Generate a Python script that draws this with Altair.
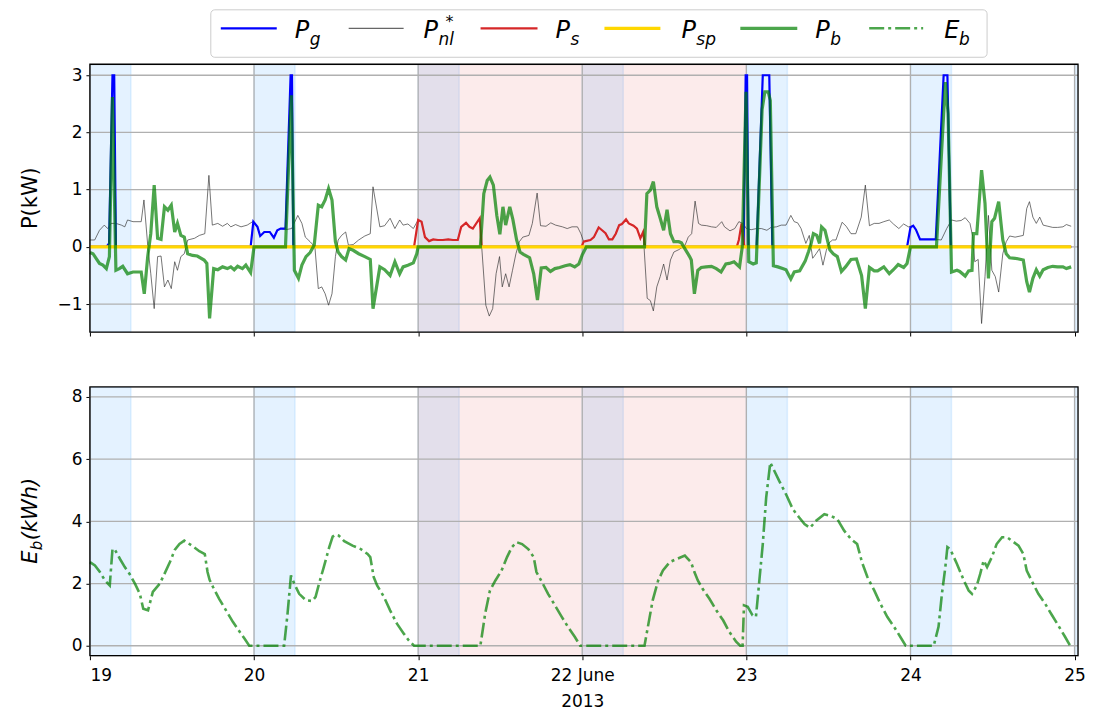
import altair as alt
import pandas as pd

# ---------------- data (hours since 2013-06-19 00:00, value) ----------------
pnl = [(0,0.12),(0.7,0.12),(1.4,0.29),(2.1,0.38),(2.6,0.32),(3.1,0.41),(3.8,0.41),(4.6,0.38),(5.1,0.35),(5.5,0.47),
       (6.3,0.44),(7.5,0.44),(7.9,0.82),(8.45,0.03),(8.9,-0.47),(9.4,-1.08),(9.9,-0.17),(10.4,-0.16),(10.9,-0.70),
       (11.4,-0.58),(11.9,-0.73),(12.4,-0.26),(12.8,-0.41),(13.3,-0.17),(13.8,-0.12),(14.3,0.12),(15.3,0.15),(16.0,0.20),
       (16.8,0.23),(17.4,1.25),(17.9,0.38),(18.7,0.41),(19.4,0.36),(20.1,0.41),(20.6,0.35),(21.3,0.39),(22.1,0.35),
       (23.0,0.38),(23.8,0.44),(24.5,0.35),(24.9,0.19),(25.5,0.26),(26.3,0.26),(26.9,0.16),(27.4,0.29),(27.9,0.32),
       (28.6,0.30),(29.5,0.32),(30.4,0.55),(31.0,0.41),(31.5,0.17),(32.2,0.09),(32.9,0.0),(33.4,-0.73),(33.9,-0.70),
       (34.4,-0.82),(34.9,-1.02),(35.4,-0.82),(35.9,-0.17),(36.3,0.12),(36.8,0.20),(37.4,0.26),(37.8,0.03),(38.5,0.04),
       (39.3,0.12),(40.2,0.19),(41.0,0.23),(41.4,1.05),(42.4,0.35),(43.1,0.37),(43.9,0.50),(44.6,0.32),(45.3,0.47),
       (45.8,0.38),(46.5,0.40),(47.3,0.32),(48.0,0.47),(48.5,0.44),(49.0,0.17),(49.6,0.10),(50.2,0.13),(50.9,0.12),
       (51.6,0.12),(52.4,0.13),(53.1,0.12),(53.8,0.12),(54.3,0.35),(55.0,0.42),(55.5,0.35),(56.0,0.32),(57.0,0.50),
       (57.9,-1.02),(58.4,-1.21),(58.9,-1.08),(59.4,-0.47),(59.9,-0.17),(60.3,-0.70),(60.8,-0.47),(61.3,-0.70),
       (61.8,-0.41),(62.3,-0.12),(62.8,0.09),(63.3,0.17),(64.2,0.20),(64.7,0.41),(65.4,0.94),(65.9,0.37),(66.7,0.36),
       (67.4,0.42),(68.1,0.38),(69.1,0.35),(69.8,0.32),(70.5,0.35),(71.3,0.35),(71.8,0.23),(72.2,0.09),(72.5,0.10),
       (73.2,0.12),(73.7,0.17),(74.4,0.34),(74.9,0.29),(75.4,0.24),(75.9,0.13),(76.4,0.13),(76.9,0.23),(77.4,0.38),
       (77.8,0.40),(78.4,0.48),(78.8,0.41),(79.5,0.37),(80.0,0.32),(80.5,0.15),(80.9,0.26),(81.5,-0.90),(81.96,-0.94),
       (82.4,-1.12),(82.9,-0.70),(83.4,-0.52),(83.9,-0.30),(84.4,-0.58),(84.9,-0.23),(85.4,-0.09),(86.1,-0.05),
       (87.0,0.02),(87.5,0.17),(88.0,0.23),(88.5,0.80),(89.0,0.41),(89.4,0.38),(90.2,0.37),(90.9,0.35),(91.6,0.34),
       (92.4,0.44),(92.8,0.35),(93.6,0.28),(94.3,0.32),(94.9,0.44),(95.5,0.41),(96.0,0.32),(96.7,0.30),(97.5,0.32),
       (98.2,0.32),(99.0,0.29),(99.6,0.34),(100.4,0.35),(101.1,0.38),(101.8,0.38),(102.5,0.55),(103.0,0.44),
       (103.5,0.42),(104.0,0.32),(104.7,0.06),(105.2,0.20),(105.7,-0.20),(106.2,-0.12),(106.7,-0.03),(107.2,-0.32),
       (107.7,-0.06),(108.1,0.07),(108.6,0.12),(109.1,0.12),(110.0,0.43),(110.6,0.36),(111.3,0.23),(112.0,0.23),
       (112.8,0.52),(113.4,1.08),(114.0,0.37),(114.7,0.41),(115.4,0.41),(116.1,0.44),(116.9,0.47),(117.5,0.40),
       (118.3,0.32),(119.0,0.40),(119.7,0.35),(120.4,0.37),(120.8,0.30),(121.4,0.13),(123.7,0.13),(124.5,0.12),
       (125.3,0.32),(126.0,0.47),(126.7,0.45),(127.4,0.46),(128.0,0.51),(128.7,0.41),(129.1,0.18),(129.4,-0.26),
       (129.9,-0.22),(130.4,-1.34),(130.9,-0.52),(131.4,0.55),(131.9,-0.41),(132.4,-0.52),(132.9,-0.79),(133.5,-0.12),
       (134.0,0.09),(134.5,0.19),(135.3,0.17),(136.5,0.20),(137.0,0.67),(137.4,0.79),(137.9,0.52),(138.4,0.41),
       (138.9,0.52),(139.4,0.38),(140.1,0.36),(140.8,0.34),(141.5,0.34),(142.3,0.35),(142.8,0.39),(143.5,0.36)]

pg = [(0,0),(2.4,0),(2.8,0.06),(3.3,3.0),(3.55,3.0),(3.8,0),(23.5,0),(23.9,0.44),(24.5,0.35),(24.9,0.19),
      (25.5,0.26),(26.3,0.26),(26.9,0.16),(27.4,0.29),(27.9,0.32),(28.6,0.32),(29.35,3.0),(29.55,3.0),(29.75,0),
      (95.6,0),(95.9,3.0),(96.1,3.0),(96.3,0),(97.5,0),(98.4,3.0),(99.35,3.0),(99.8,0),(119.5,0),(120.0,0.34),
      (120.4,0.37),(120.8,0.30),(121.4,0.13),(123.7,0.13),(124.85,3.0),(125.4,3.0),(125.9,0),(143.5,0)]

ps = [(0,0),(47.4,0),(48.0,0.47),(48.5,0.44),(49.0,0.17),(49.6,0.10),(50.2,0.13),(50.9,0.12),(51.6,0.12),
      (52.4,0.13),(53.1,0.12),(53.8,0.12),(54.3,0.35),(55.0,0.42),(55.5,0.35),(56.0,0.32),(57.0,0.50),(57.3,0),
      (71.9,0),(72.2,0.09),(72.5,0.10),(73.2,0.12),(73.7,0.17),(74.4,0.34),(74.9,0.29),(75.4,0.24),(75.9,0.13),
      (76.4,0.13),(76.9,0.23),(77.4,0.38),(77.8,0.40),(78.4,0.48),(78.8,0.41),(79.5,0.37),(80.0,0.32),(80.5,0.15),
      (80.9,0.26),(81.2,0),(94.6,0),(94.9,0.12),(95.3,0.41),(95.7,0),(143.5,0)]

psp = [(0,0.0),(143.5,0.0)]

pb = [(0,-0.10),(0.45,-0.12),(0.9,-0.20),(1.4,-0.29),(1.9,-0.32),(2.4,-0.38),(2.85,-0.17),(3.3,2.62),(3.8,-0.41),
      (4.3,-0.38),(4.8,-0.34),(5.5,-0.47),(6.3,-0.44),(7.5,-0.44),(7.95,-0.82),(8.45,-0.17),(8.9,0.23),(9.4,1.08),
      (9.9,0.15),(10.4,0.13),(10.9,0.70),(11.4,0.64),(11.9,0.73),(12.4,0.26),(12.8,0.41),(13.3,0.20),(13.8,0.17),
      (14.3,-0.12),(15.0,-0.15),(15.7,-0.16),(16.7,-0.23),(17.1,-0.29),(17.5,-1.25),(18.1,-0.38),(18.7,-0.40),
      (19.4,-0.35),(20.1,-0.38),(20.6,-0.35),(21.1,-0.40),(21.6,-0.34),(22.3,-0.38),(22.8,-0.32),(23.5,-0.45),
      (24.0,0.0),(28.6,0.0),(29.45,2.65),(29.9,-0.41),(30.5,-0.55),(31.0,-0.32),(31.6,-0.17),(32.2,-0.10),
      (32.8,0.03),(33.4,0.73),(33.9,0.70),(34.4,0.82),(34.9,1.02),(35.4,0.82),(35.9,0.09),(36.3,-0.09),
      (36.8,-0.17),(37.4,-0.23),(37.9,-0.03),(38.5,-0.06),(39.3,-0.12),(40.2,-0.17),(41.0,-0.22),(41.4,-1.08),
      (42.4,-0.35),(43.1,-0.40),(43.9,-0.50),(44.6,-0.26),(45.3,-0.47),(45.8,-0.35),(46.5,-0.32),(47.3,-0.28),
      (47.8,-0.12),(48.0,0.0),(57.1,0.0),(57.6,0.93),(58.1,1.16),(58.5,1.22),(59.0,1.08),(59.5,0.55),(59.95,0.22),
      (60.4,0.70),(60.8,0.38),(61.4,0.70),(61.85,0.48),(62.4,0.12),(62.9,-0.09),(63.4,-0.13),(64.3,-0.19),
      (64.9,-0.47),(65.45,-0.93),(66.0,-0.37),(66.7,-0.36),(67.35,-0.43),(68.0,-0.38),(68.7,-0.36),(69.5,-0.33),
      (70.2,-0.31),(70.9,-0.35),(71.5,-0.30),(72.0,-0.14),(72.6,0.0),(81.1,0.0),(81.45,0.93),(81.96,0.99),
      (82.4,1.14),(82.9,0.70),(83.4,0.50),(83.9,0.29),(84.4,0.65),(84.9,0.23),(85.4,0.09),(86.1,0.09),(86.5,0.07),
      (87.0,-0.03),(87.7,-0.17),(87.95,-0.23),(88.4,-0.82),(88.9,-0.41),(89.4,-0.36),(90.1,-0.35),(90.9,-0.34),
      (91.6,-0.38),(92.3,-0.44),(93.0,-0.30),(93.5,-0.29),(94.2,-0.26),(95.0,-0.35),(95.4,0.0),(95.95,2.71),
      (96.35,-0.26),(97.0,-0.30),(97.45,-0.28),(98.3,2.4),(98.7,2.71),(99.2,2.71),(99.5,2.56),(99.95,-0.33),
      (100.6,-0.35),(101.3,-0.38),(101.8,-0.40),(102.5,-0.56),(103.0,-0.44),(103.8,-0.42),(104.6,-0.25),
      (105.1,-0.08),(105.45,0.05),(105.8,0.23),(106.3,0.20),(106.7,0.06),(107.0,0.35),(107.5,0.29),(108.2,-0.05),
      (108.7,-0.12),(109.3,-0.17),(109.9,-0.43),(110.5,-0.35),(111.3,-0.22),(112.1,-0.21),(112.85,-0.50),
      (113.4,-1.08),(114.0,-0.36),(114.7,-0.42),(115.2,-0.42),(116.1,-0.35),(116.9,-0.47),(117.5,-0.40),
      (118.2,-0.31),(119.0,-0.36),(119.5,-0.29),(120.0,0.0),(123.8,0.0),(125.1,2.88),(125.5,2.33),(126.0,-0.44),
      (126.8,-0.41),(127.2,-0.43),(128.0,-0.51),(128.5,-0.42),(129.0,-0.41),(129.2,0.23),(129.7,0.23),(130.4,1.34),
      (130.9,0.76),(131.4,-0.55),(131.9,0.44),(132.3,0.50),(132.9,0.79),(133.5,0.12),(134.0,-0.12),(134.5,-0.19),
      (135.3,-0.20),(136.5,-0.23),(137.0,-0.61),(137.4,-0.79),(137.9,-0.55),(138.4,-0.40),(138.9,-0.51),
      (139.4,-0.40),(140.1,-0.36),(140.8,-0.34),(141.5,-0.35),(142.3,-0.35),(142.8,-0.38),(143.5,-0.35)]

eb = [(0,2.69),(0.73,2.58),(1.46,2.37),(2.2,2.10),(2.9,1.94),(3.3,3.11),(3.6,3.11),(4.4,2.79),(5.1,2.53),(5.8,2.31),
      (6.6,1.99),(7.3,1.67),(7.8,1.19),(8.5,1.14),(9.2,1.73),(10.2,1.99),(10.9,2.31),(11.7,2.69),(12.4,3.08),
      (13.1,3.27),(13.8,3.38),(15.1,3.19),(16.0,3.04),(16.8,2.95),(17.2,2.37),(17.5,2.12),(18.0,1.89),(18.9,1.51),
      (19.9,1.14),(20.9,0.77),(21.9,0.45),(22.6,0.23),(23.3,0),(28.4,0),(28.9,1.03),(29.4,2.26),(29.9,1.99),
      (30.6,1.67),(31.6,1.46),(32.5,1.44),(33.0,1.57),(33.5,1.99),(34.2,2.53),(35.0,3.17),(35.5,3.51),(35.9,3.57),
      (36.4,3.54),(37.2,3.36),(38.4,3.22),(39.6,3.11),(40.6,2.95),(41.0,2.85),(41.5,2.21),(42.0,1.94),(43.0,1.57),
      (43.9,1.14),(44.9,0.71),(45.9,0.39),(46.6,0.18),(47.4,0),(57.1,0),(57.8,1.03),(58.5,1.78),(59.3,2.10),
      (60.2,2.42),(61.0,2.85),(61.7,3.17),(62.4,3.33),(63.2,3.27),(64.1,3.11),(64.9,2.85),(65.3,2.37),(66.1,2.05),
      (67.0,1.67),(68.0,1.30),(69.0,0.93),(69.9,0.61),(70.9,0.29),(71.7,0),(81.1,0),(81.6,0.61),(82.3,1.46),
      (83.1,2.10),(83.8,2.42),(84.8,2.69),(85.8,2.79),(87.0,2.90),(87.9,2.69),(88.4,2.37),(88.9,2.10),(89.6,1.83),
      (90.6,1.51),(91.6,1.14),(92.6,0.82),(93.5,0.45),(94.5,0.13),(95.1,0),(95.45,0),(95.65,1.30),(96.2,1.25),
      (96.9,0.98),(97.4,0.93),(97.9,2.10),(98.4,3.27),(98.9,4.77),(99.5,5.89),(100.1,5.62),(100.8,5.30),(101.8,4.87),
      (102.8,4.39),(103.7,4.13),(104.5,3.91),(105.3,3.79),(106.2,4.02),(107.4,4.23),(108.3,4.18),(109.3,4.07),
      (110.3,3.70),(111.3,3.43),(112.2,3.27),(112.9,2.69),(113.7,2.21),(114.7,1.78),(115.6,1.35),(116.6,0.93),
      (117.6,0.61),(118.5,0.29),(119.3,0),(123.4,0),(124.1,0.61),(124.6,1.67),(125.1,2.53),(125.4,3.17),
      (125.8,3.11),(126.8,2.63),(127.8,2.10),(128.5,1.78),(129.0,1.67),(129.7,1.94),(130.2,2.31),(130.7,2.74),
      (131.2,2.53),(131.9,2.85),(132.6,3.27),(133.4,3.49),(134.1,3.49),(134.8,3.38),(135.8,3.22),(136.5,2.95),
      (137.0,2.42),(137.7,2.10),(138.7,1.67),(139.7,1.35),(140.7,0.98),(141.6,0.66),(142.6,0.29),(143.3,0.02)]

# shaded periods (hours since start)
blue_start = [0, 24, 48, 72, 96, 120, 144]
blue_end = [6, 30, 54, 78, 102, 126, 150]
pink_start = [48]
pink_end = [96]

day_ticks = [19, 20, 21, 22, 23, 24, 25]
p_ticks = [-1, 0, 1, 2, 3]
e_ticks = [0, 2, 4, 6, 8]

# ---------------- helpers ----------------
T0 = pd.Timestamp("2013-06-19")
FONT = "DejaVu Sans"
W, H1, H2 = 989, 268, 269


def frame(pairs):
    h = [p[0] for p in pairs]
    v = [p[1] for p in pairs]
    return pd.DataFrame({"t": T0 + pd.to_timedelta(h, unit="h"), "v": v})


def span_frame(s, e):
    return pd.DataFrame({"s": T0 + pd.to_timedelta(s, unit="h"), "e": T0 + pd.to_timedelta(e, unit="h")})


xscale = alt.Scale(domain=[alt.DateTime(year=2013, month=6, date=19),
                           alt.DateTime(year=2013, month=6, date=25, hours=0, minutes=30)])
tick_vals = [alt.DateTime(year=2013, month=6, date=d) for d in day_ticks]

xaxis_top = alt.Axis(values=tick_vals, labels=False, ticks=True, tickSize=4, tickColor="black",
                     tickWidth=1, grid=False, domain=False, title=None)
xaxis_bot = alt.Axis(values=tick_vals, ticks=True, tickSize=4, tickColor="black", tickWidth=1,
                     grid=False, domain=False, title=None, labelFontSize=17, labelFont=FONT,
                     labelColor="black", labelPadding=8, labelLineHeight=26, labelAngle=0,
                     labelExpr="date(datum.value) == 22 ? ['22 June', '2013'] : '' + date(datum.value)")

yscale_top = alt.Scale(domain=[-1.489, 3.192], nice=False, zero=False)
yscale_bot = alt.Scale(domain=[-0.32, 8.32], nice=False, zero=False)
yaxis_top = alt.Axis(values=p_ticks, title=None, grid=False, domain=False, tickSize=4, tickColor="black",
                     labelFontSize=17, labelFont=FONT, labelColor="black", labelPadding=4)
yaxis_bot = alt.Axis(values=e_ticks, title=None, grid=False, domain=False, tickSize=4, tickColor="black",
                     labelFontSize=17, labelFont=FONT, labelColor="black", labelPadding=4)


def X(field, axis):
    return alt.X(f"{field}:T", scale=xscale, axis=axis, title=None)


def background(axis, height):
    blue = alt.Chart(span_frame(blue_start, blue_end)).mark_rect(
        fill="#1e90ff", fillOpacity=0.12, stroke="#1e90ff", strokeOpacity=0.12, strokeWidth=1.5, clip=True
    ).encode(x=X("s", axis), x2="e:T", y=alt.value(0), y2=alt.value(height))
    pink = alt.Chart(span_frame(pink_start, pink_end)).mark_rect(
        fill="#e03c3c", fillOpacity=0.1, clip=True
    ).encode(x=X("s", axis), x2="e:T", y=alt.value(0), y2=alt.value(height))
    vgrid = alt.Chart(pd.DataFrame({"t": [T0 + pd.Timedelta(days=d - 19) for d in day_ticks]})).mark_rule(
        color="#b0b0b0", strokeWidth=1.3
    ).encode(x=X("t", axis))
    return [blue, pink, vgrid]


def hgrid(vals, yscale, yaxis):
    return alt.Chart(pd.DataFrame({"y": vals})).mark_rule(color="#b0b0b0", strokeWidth=1.3).encode(
        y=alt.Y("y:Q", scale=yscale, axis=yaxis))


def series(pairs, axis, yscale, yaxis, **mk):
    return alt.Chart(frame(pairs)).mark_line(**mk).encode(
        x=X("t", axis), y=alt.Y("v:Q", scale=yscale, axis=yaxis))


def border(height):
    return alt.Chart(one).mark_rect(filled=False, stroke="black", strokeWidth=1.3).encode(
        x=alt.value(0), x2=alt.value(W), y=alt.value(0), y2=alt.value(height))


one = pd.DataFrame({"k": [0]})
spacer = alt.Chart(one).mark_rule(strokeOpacity=0).encode(
    x=alt.value(-81.5), x2=alt.value(-79), y=alt.value(10))

# ---------------- top panel ----------------
GREEN = "#008000"
top_layers = background(xaxis_top, H1) + [
    hgrid(p_ticks, yscale_top, yaxis_top),
    series(pnl, xaxis_top, yscale_top, yaxis_top, color="#333333", strokeWidth=0.9, opacity=0.75),
    series(pg, xaxis_top, yscale_top, yaxis_top, color="#0000ff", strokeWidth=2.2),
    series(ps, xaxis_top, yscale_top, yaxis_top, color="#d62728", strokeWidth=2.2),
    series(psp, xaxis_top, yscale_top, yaxis_top, color="#ffd700", strokeWidth=3.2),
    series(pb, xaxis_top, yscale_top, yaxis_top, color=GREEN, strokeWidth=3.2, opacity=0.7),
    border(H1),
]

# legend (layout only)
leg = pd.DataFrame({
    "x1": [131, 259, 391, 515, 651],
    "x2": [187, 314, 448, 571, 708],
    "color": ["#0000ff", "#333333", "#d62728", "#ffd700", GREEN],
    "w": [2.2, 1.2, 2.2, 3.2, 3.2],
    "op": [1.0, 0.75, 1.0, 1.0, 0.7],
})
leg_txt = pd.DataFrame({
    "tx": [205, 334, 466, 592, 726, 855],
    "main": ["P", "P", "P", "P", "P", "E"],
    "sub": ["g", "nl", "s", "sp", "b", "b"],
})
legend_box = alt.Chart(one).mark_rect(fill="white", stroke="#cccccc", strokeWidth=1, cornerRadius=4).encode(
    x=alt.value(121), x2=alt.value(898), y=alt.value(-54.5), y2=alt.value(-7))
legend_lines = alt.Chart(leg).mark_rule().encode(
    x=alt.X("x1:Q", scale=None), x2="x2:Q", y=alt.value(-36),
    color=alt.Color("color:N", scale=None), strokeWidth=alt.StrokeWidth("w:Q", scale=None),
    opacity=alt.Opacity("op:Q", scale=None))
legend_dash = alt.Chart(one).mark_rule(color=GREEN, opacity=0.7, strokeWidth=2.6, strokeDash=[15, 4, 3, 4]).encode(
    x=alt.value(780), x2=alt.value(834), y=alt.value(-36))
legend_main = alt.Chart(leg_txt).mark_text(font=FONT, fontSize=24, fontStyle="italic", align="left",
                                           baseline="alphabetic", color="black").encode(
    x=alt.X("tx:Q", scale=None), y=alt.value(-26), text="main:N")
legend_sub = alt.Chart(leg_txt).mark_text(font=FONT, fontSize=17, fontStyle="italic", align="left",
                                          baseline="alphabetic", color="black", dx=15).encode(
    x=alt.X("tx:Q", scale=None), y=alt.value(-19), text="sub:N")
legend_star = alt.Chart(one).mark_text(font=FONT, fontSize=16, align="left", baseline="alphabetic",
                                       color="black", text="*").encode(x=alt.value(356), y=alt.value(-37))

ytitle_top = alt.Chart(one).mark_text(font=FONT, fontSize=21, angle=270, align="center",
                                      baseline="alphabetic", color="black", text="P(kW)").encode(
    x=alt.value(-53), y=alt.value(H1 / 2))

top = alt.layer(*top_layers, legend_box, legend_lines, legend_dash, legend_main, legend_sub, legend_star,
                ytitle_top, spacer).properties(width=W, height=H1)

# ---------------- bottom panel ----------------
bot_layers = background(xaxis_bot, H2) + [
    hgrid(e_ticks, yscale_bot, yaxis_bot),
    series(eb, xaxis_bot, yscale_bot, yaxis_bot, color=GREEN, strokeWidth=2.6, opacity=0.7,
           strokeDash=[15, 4, 3, 4]),
    border(H2),
]
yt_E = alt.Chart(one).mark_text(font=FONT, fontSize=21, fontStyle="italic", angle=270, align="left",
                                baseline="alphabetic", color="black", text="E").encode(
    x=alt.value(-53), y=alt.value(177))
yt_b = alt.Chart(one).mark_text(font=FONT, fontSize=15, fontStyle="italic", angle=270, align="left",
                                baseline="alphabetic", color="black", text="b").encode(
    x=alt.value(-48), y=alt.value(163.5))
yt_u = alt.Chart(one).mark_text(font=FONT, fontSize=21, fontStyle="italic", angle=270, align="left",
                                baseline="alphabetic", color="black", text="(kWh)").encode(
    x=alt.value(-53), y=alt.value(153.5))

bottom = alt.layer(*bot_layers, yt_E, yt_b, yt_u, spacer).properties(width=W, height=H2)

chart = alt.vconcat(top, bottom, spacing=48).properties(
    padding={"left": 0, "top": 0, "right": 0, "bottom": 0}
).configure_view(strokeWidth=0).configure(font=FONT)

chart.save("out.html", embed_options={"renderer": "svg", "actions": False})
